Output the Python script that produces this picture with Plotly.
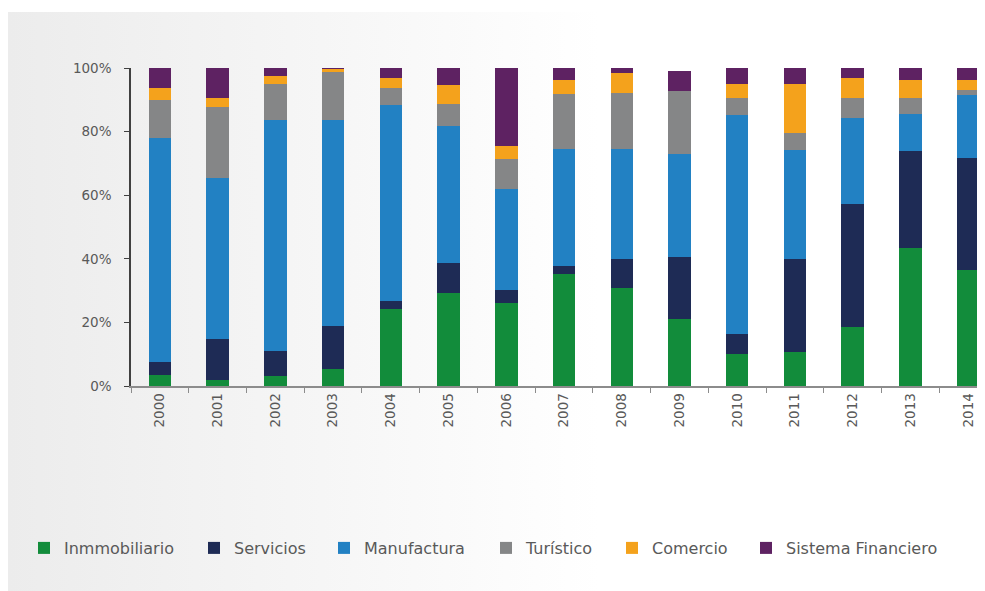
import plotly.graph_objects as go

years = [str(y) for y in range(2000, 2015)]

inmobiliario = [3.6, 2.0, 3.1, 5.3, 24.1, 29.4, 26.2, 35.1, 30.8, 21.1, 10.2, 10.7, 18.6, 43.3, 36.5]
servicios = [3.8, 12.7, 7.9, 13.5, 2.7, 9.4, 4.0, 2.6, 9.2, 19.4, 6.3, 29.2, 38.6, 30.7, 35.3]
manufactura = [70.6, 50.8, 72.7, 64.9, 61.6, 43.1, 31.8, 36.9, 34.6, 32.4, 68.8, 34.4, 27.0, 11.6, 19.8]
turistico = [12.0, 22.2, 11.3, 14.9, 5.3, 6.8, 9.4, 17.2, 17.6, 19.9, 5.2, 5.2, 6.3, 4.9, 1.6]
comercio = [3.7, 2.8, 2.4, 1.1, 3.2, 6.0, 4.1, 4.3, 6.2, 0.0, 4.6, 15.6, 6.4, 5.8, 2.9]
financiero = [6.3, 9.5, 2.6, 0.3, 3.1, 5.3, 24.5, 3.9, 1.6, 6.4, 4.9, 4.9, 3.1, 3.7, 3.9]

names = ["Inmmobiliario", "Servicios", "Manufactura", "Turístico", "Comercio", "Sistema Financiero"]
colors = ["#128C3B", "#1E2B55", "#2281C3", "#858687", "#F4A21C", "#5E2262"]
legend_x = [16, 186, 316, 478, 604, 738]  # left edge of each legend entry, px

W, H = 985, 591
text_color = "#595959"

fig = go.Figure()

# soft grey-to-white background panel (paper coords in pixels)
fig.add_trace(go.Scatter(
    x=[0, W, W, 0, 0],
    y=[0, 0, H - 4, H - 4, 0],
    mode="none",
    fill="toself",
    fillgradient=dict(
        type="horizontal",
        colorscale=[[0, "#ececec"], [0.35, "#f7f7f7"], [0.6, "#ffffff"], [1, "#ffffff"]],
    ),
    hoverinfo="skip",
    showlegend=False,
    xaxis="x",
    yaxis="y",
))

values = [inmobiliario, servicios, manufactura, turistico, comercio, financiero]
for i, (name, vals, color) in enumerate(zip(names, values, colors)):
    fig.add_trace(go.Bar(
        x=years,
        y=vals,
        name=name,
        marker=dict(color=color, line=dict(width=0)),
        xaxis="x2",
        yaxis="y2",
        legend="legend" if i == 0 else f"legend{i + 1}",
    ))

legend_style = dict(
    orientation="h",
    xanchor="left",
    y=(H - 540) / H,
    yanchor="middle",
    font=dict(size=16, color=text_color),
    bgcolor="rgba(0,0,0,0)",
)
legends = {}
for i, lx in enumerate(legend_x):
    key = "legend" if i == 0 else f"legend{i + 1}"
    legends[key] = dict(legend_style, x=lx / W)

fig.update_layout(
    width=W,
    height=H,
    margin=dict(l=0, r=0, t=0, b=0, autoexpand=False),
    paper_bgcolor="white",
    plot_bgcolor="rgba(0,0,0,0)",
    barmode="stack",
    bargap=0.61,
    font=dict(family="DejaVu Sans", color=text_color),
    xaxis=dict(domain=[0, 1], range=[0, W], visible=False, fixedrange=True),
    yaxis=dict(domain=[0, 1], range=[0, H], visible=False, fixedrange=True),
    xaxis2=dict(
        domain=[123 / W, 1],
        anchor="y2",
        type="category",
        range=[-0.5, 14.43],
        showgrid=False,
        showline=True,
        linecolor="#8c8c8c",
        linewidth=1.5,
        ticks="outside",
        tickson="boundaries",
        ticklen=5,
        tickcolor="#8c8c8c",
        tickangle=-90,
        tickfont=dict(size=13.5, color=text_color),
        automargin=False,
    ),
    yaxis2=dict(
        domain=[213 / H, 531 / H],
        anchor="x2",
        range=[0, 100],
        dtick=20,
        ticksuffix="%",
        showgrid=False,
        zeroline=False,
        showline=True,
        linecolor="#404040",
        linewidth=1.5,
        ticks="outside",
        ticklen=5,
        tickcolor="#404040",
        ticklabelstandoff=10,
        tickfont=dict(size=13.5, color=text_color),
        automargin=False,
    ),
    **legends,
)

fig.write_html("out.html")
